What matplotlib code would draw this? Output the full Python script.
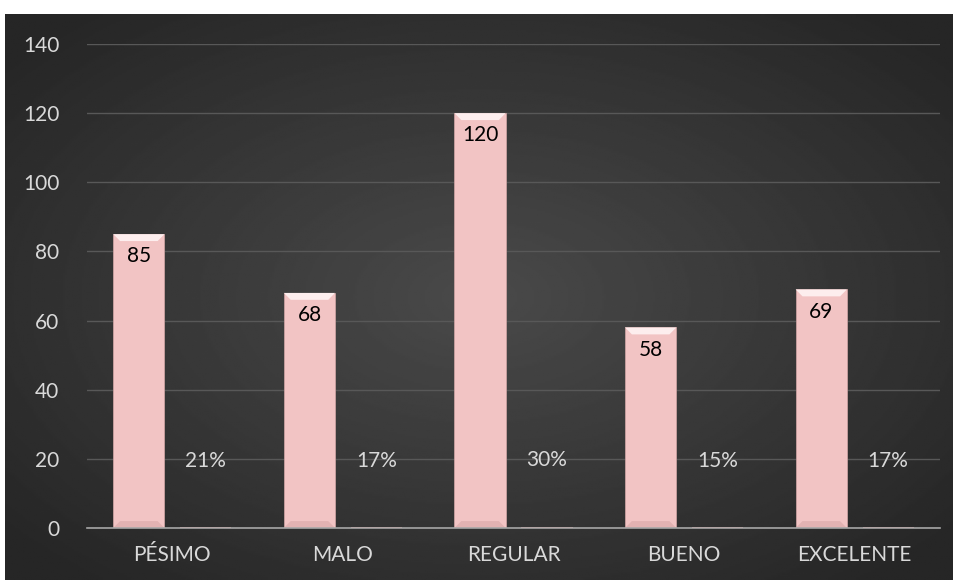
import numpy as np
import matplotlib.pyplot as plt
from matplotlib.patches import Polygon

categorias = ['PÉSIMO', 'MALO', 'REGULAR', 'BUENO', 'EXCELENTE']
frecuencia = [85, 68, 120, 58, 69]
porcentaje = [0.21, 0.17, 0.30, 0.15, 0.17]
etiquetas_pct = ['21%', '17%', '30%', '15%', '17%']
y_ticks = [0, 20, 40, 60, 80, 100, 120, 140]

plt.rcParams['font.family'] = ['Lato', 'DejaVu Sans']

fig = plt.figure(figsize=(9.54, 5.8), dpi=100)

# dark background panel with radial gradient
bg = fig.add_axes([5 / 954, 0, 949 / 954, 566 / 580])
yy, xx = np.mgrid[-1:1:300j, -1:1:500j]
r = np.sqrt(xx ** 2 + yy ** 2)
grad = 0.29 - 0.14 * np.clip(r / 1.3, 0, 1)
bg.imshow(grad, cmap='gray', vmin=0, vmax=1, aspect='auto', extent=[0, 1, 0, 1])
bg.axis('off')

ax = fig.add_axes([87 / 954, 52 / 580, 853 / 954, 484 / 580])
ax.patch.set_alpha(0)

x = np.arange(len(categorias))
w = 0.30
off = 0.196
b1 = ax.bar(x - off, frecuencia, w, color='#f2c4c4', edgecolor='#c9a0a0', linewidth=0.6, zorder=3)
b2 = ax.bar(x + off, porcentaje, w, color='#e8a0a0', zorder=3)

# bevel effect on the main bars
dx, dy = 0.04, 2.0
for rect in b1:
    x0, x1 = rect.get_x(), rect.get_x() + rect.get_width()
    h = rect.get_height()
    ax.add_patch(Polygon([(x0, h), (x1, h), (x1 - dx, h - dy), (x0 + dx, h - dy)],
                         closed=True, color='#fdeeee', zorder=3.5, lw=0))
    ax.add_patch(Polygon([(x0, 0), (x1, 0), (x1 - dx, dy), (x0 + dx, dy)],
                         closed=True, color='#e2b2b2', zorder=3.5, lw=0))

for rect, v in zip(b1, frecuencia):
    ax.text(rect.get_x() + rect.get_width() / 2, v - 3.5, str(v), ha='center', va='top',
            fontsize=15, color='black', zorder=4)
for rect, lab in zip(b2, etiquetas_pct):
    ax.annotate(lab, (rect.get_x() + rect.get_width() / 2, rect.get_height()),
                xytext=(0, 48), textcoords='offset points', ha='center', va='center',
                fontsize=15, color='#d9d9d9', zorder=4)

ax.set_ylim(0, 140)
ax.set_xlim(-0.5, len(categorias) - 0.5)
ax.set_yticks(y_ticks)
ax.set_xticks(x)
ax.set_xticklabels(categorias)
ax.tick_params(axis='both', length=0, colors='#d9d9d9', labelsize=15)
ax.tick_params(axis='y', pad=20)
ax.tick_params(axis='x', pad=12)
ax.grid(axis='y', color='#585858', linewidth=1.0, zorder=0)
for s in ['top', 'right', 'left']:
    ax.spines[s].set_visible(False)
ax.spines['bottom'].set_color('#a6a6a6')
ax.spines['bottom'].set_linewidth(1.2)
ax.spines['bottom'].set_zorder(5)

fig.savefig('out.png', dpi=100)
